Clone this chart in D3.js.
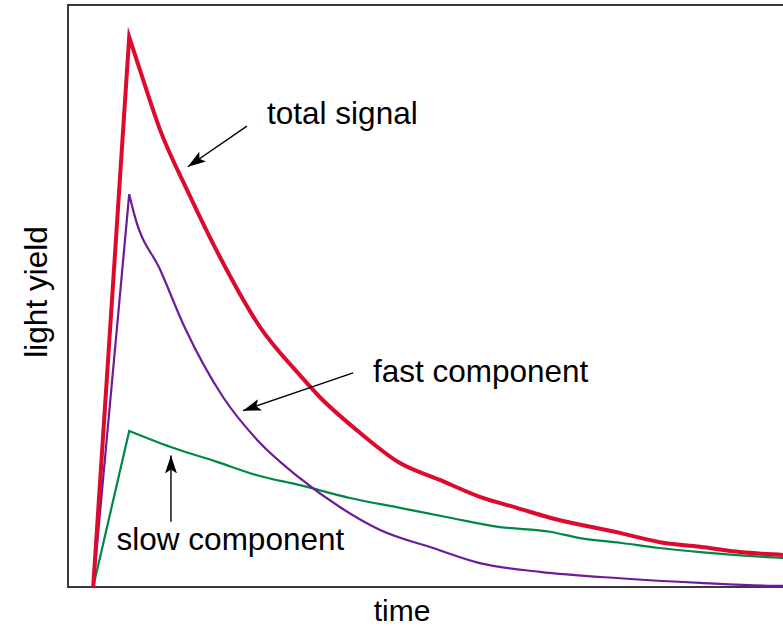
<!DOCTYPE html>
<html>
<head>
<meta charset="utf-8">
<script src="https://cdn.jsdelivr.net/npm/d3@7"></script>
<style>
html,body{margin:0;padding:0;background:#fff;}
svg{display:block;}
text{font-family:"Liberation Sans",Arial,Helvetica,sans-serif;fill:#000;}
</style>
</head>
<body>
<svg id="chart" width="783" height="629"></svg>
<script>
// ---- data (arbitrary units) ----
const totalTime   = [0, 10, 13, 18.6, 26.1, 35.2, 46.3, 57.4, 63, 74.1, 85.2, 96.3, 107.4, 117.7, 126.9, 146.3, 157.4, 168.6, 179.7, 191.6, 200];
const totalSignal = [0, 94.5, 88.8, 78.5, 68.2, 56.7, 44.7, 36.4, 32.6, 26.5, 21.3, 18.4, 15.5, 13.6, 11.9, 9.3, 7.7, 6.9, 6.0, 5.5, 5.2];

const fastTime      = [0, 10, 11.6, 18.6, 25.5, 36.1, 45.5, 57.4, 68.6, 79.7, 94.4, 107.4, 124.1, 146.3, 168.6, 188, 200];
const fastComponent = [0, 67.5, 63.6, 54.5, 44.5, 32.6, 25.3, 18.7, 13.7, 9.8, 6.7, 4.1, 2.6, 1.5, 0.7, 0.2, 0.15];

const slowTime      = [0, 10, 21.3, 34.4, 45.5, 57.4, 71.3, 85.2, 99.1, 113, 126.9, 135.2, 146.3, 157.4, 168.6, 191.6, 200];
const slowComponent = [0, 26.8, 24.1, 21.5, 19.2, 17.5, 15.3, 13.6, 11.9, 10.3, 9.5, 8.4, 7.6, 6.7, 6.0, 5.0, 4.8];

const xDomain = [-7, 200];
const yDomain = [0, 100];

// annotations: label, text anchor (data units), arrow start & tip (data units)
const labels = ["total signal", "fast component", "slow component"];
const labelPos = [[48.3, 79.5], [77.7, 35.2], [6.5, 6.4]];
const arrowFrom = [[42.7, 79.2], [72.2, 36.8], [21.6, 11.2]];
const arrowTo   = [[26.3, 72.2], [41.6, 30.3], [21.6, 22.6]];

// ---- drawing ----
const svg = d3.select("#chart");
const x = d3.scaleLinear().domain(xDomain).range([68, 813.2]);
const y = d3.scaleLinear().domain(yDomain).range([587, 5]);

// arrowhead marker
svg.append("defs").append("marker")
  .attr("id", "arrow")
  .attr("viewBox", "0 0 18 12")
  .attr("refX", 18).attr("refY", 6)
  .attr("markerWidth", 18).attr("markerHeight", 12)
  .attr("markerUnits", "userSpaceOnUse")
  .attr("orient", "auto")
  .append("path").attr("d", "M0,0 L18,6 L0,12 L4,6 Z").attr("fill", "#000");

// frame
svg.append("rect")
  .attr("x", x(xDomain[0])).attr("y", y(yDomain[1]))
  .attr("width", x(xDomain[1]) - x(xDomain[0]))
  .attr("height", y(yDomain[0]) - y(yDomain[1]))
  .attr("fill", "none").attr("stroke", "#3a3a3a").attr("stroke-width", 2);

// straight rise, smooth decay
const riseLine = d3.line().curve(d3.curveLinear);
const decayLine = d3.line().curve(d3.curveMonotoneX);
function pulsePath(times, vals) {
  const pts = times.map((t, i) => [x(t), y(vals[i])]);
  const rise = riseLine(pts.slice(0, 2));
  const decay = decayLine(pts.slice(1)).replace(/^M/, "L");
  return rise + decay;
}

svg.append("path").attr("d", pulsePath(slowTime, slowComponent))
  .attr("fill", "none").attr("stroke", "#008748").attr("stroke-width", 2.2);
svg.append("path").attr("d", pulsePath(fastTime, fastComponent))
  .attr("fill", "none").attr("stroke", "#6c1c9a").attr("stroke-width", 2.2);
svg.append("path").attr("d", pulsePath(totalTime, totalSignal))
  .attr("fill", "none").attr("stroke", "#dc0a2c").attr("stroke-width", 4)
  .attr("stroke-linejoin", "miter").attr("stroke-miterlimit", 20);

// arrows
labels.forEach((lab, i) => {
  svg.append("line")
    .attr("x1", x(arrowFrom[i][0])).attr("y1", y(arrowFrom[i][1]))
    .attr("x2", x(arrowTo[i][0])).attr("y2", y(arrowTo[i][1]))
    .attr("stroke", "#000").attr("stroke-width", 1.4)
    .attr("marker-end", "url(#arrow)");
  svg.append("text")
    .attr("x", x(labelPos[i][0])).attr("y", y(labelPos[i][1]))
    .attr("font-size", 31.5)
    .text(lab);
});

// axis titles
svg.append("text")
  .attr("x", 402).attr("y", 621)
  .attr("text-anchor", "middle").attr("font-size", 30)
  .text("time");
svg.append("text")
  .attr("transform", "translate(47,292) rotate(-90)")
  .attr("text-anchor", "middle").attr("font-size", 31.5)
  .text("light yield");
</script>
</body>
</html>
